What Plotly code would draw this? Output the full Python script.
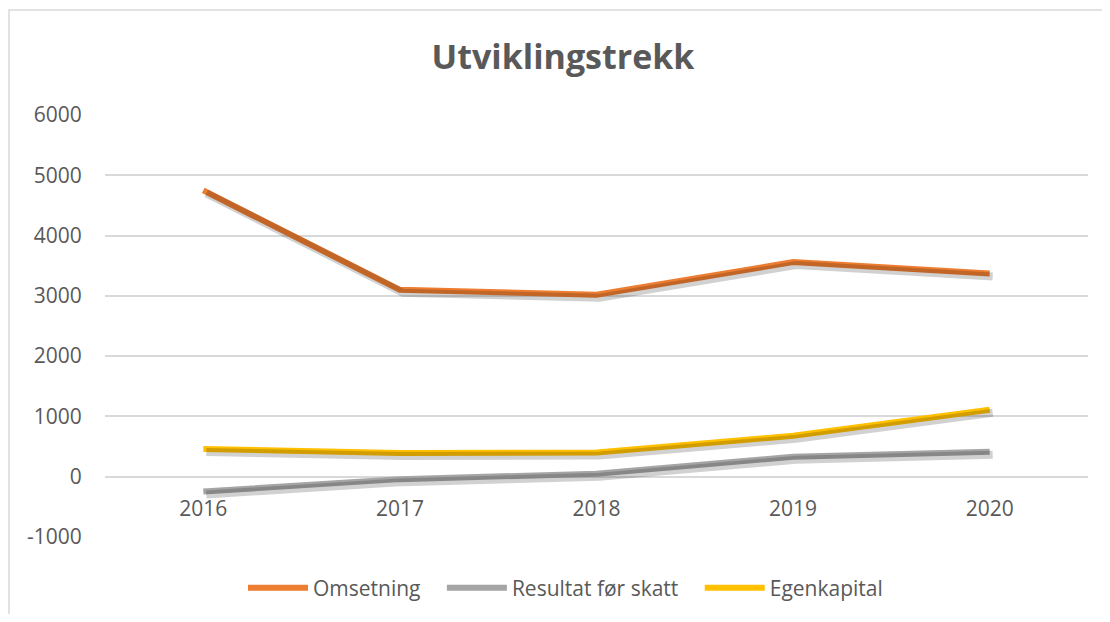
import plotly.graph_objects as go

years = ["2016", "2017", "2018", "2019", "2020"]
omsetning = [4750, 3100, 3020, 3560, 3370]
resultat = [-245, -40, 50, 330, 415]
egenkapital = [460, 395, 400, 680, 1110]
ytick_vals = [-1000, 0, 1000, 2000, 3000, 4000, 5000, 6000]
ytick_text = ["-1000", "0", "1000", "2000", "3000", "4000", "5000", "6000"]

series = [
    ("Omsetning", omsetning, "#ED7D31"),
    ("Resultat før skatt", resultat, "#A5A5A5"),
    ("Egenkapital", egenkapital, "#FFC000"),
]

FONT = "Open Sans"
TXT = "#595959"
FS = 21
OFF = 8  # page body margin
W, H = 1110 - 2 * OFF, 622 - 2 * OFF
ML, MT = 105 - OFF, 115 - OFF
MR = W - (1088 - OFF)
MB = H - (537 - OFF)
plot_w = W - ML - MR
plot_h = H - MT - MB
YR = [-1000, 6000]
XR = [-0.5, 4.5]

fig = go.Figure()

# shadows (same data, drawn on axes shifted by a few pixels)
dx = 3 * (XR[1] - XR[0]) / plot_w
dy = 3 * (YR[1] - YR[0]) / plot_h
for name, vals, col in series:
    fig.add_trace(go.Scatter(
        x=list(range(len(years))), y=vals, mode="lines",
        line=dict(color="rgba(0,0,0,0.18)", width=8),
        xaxis="x2", yaxis="y2", showlegend=False, hoverinfo="skip"))

pad = "\u00a0" * 3
for name, vals, col in series:
    fig.add_trace(go.Scatter(
        x=list(range(len(years))), y=vals, mode="lines", name=name + pad,
        line=dict(color=col, width=6)))

fig.update_layout(
    width=W, height=H,
    margin=dict(l=ML, r=MR, t=MT, b=MB, autoexpand=False),
    paper_bgcolor="white", plot_bgcolor="white",
    font=dict(family=FONT, color=TXT, size=FS),
    title=dict(text="<b>Utviklingstrekk</b>", x=(563 - OFF) / W, xanchor="center",
               y=1 - (57 - OFF) / H, yanchor="middle", xref="container", yref="container",
               font=dict(family=FONT, size=34, color=TXT)),
    xaxis=dict(range=XR, tickvals=list(range(len(years))), ticktext=years,
               showgrid=False, zeroline=False, showline=False,
               anchor="free", position=(0 - YR[0]) / (YR[1] - YR[0]),
               ticks="outside", ticklen=13, tickcolor="rgba(0,0,0,0)",
               tickfont=dict(size=FS, color=TXT, family=FONT)),
    yaxis=dict(range=YR, tickvals=ytick_vals, ticktext=ytick_text,
               showgrid=True, gridcolor="#D9D9D9",
               gridwidth=1.5, zeroline=False, showline=False,
               ticks="outside", ticklen=18, tickcolor="rgba(0,0,0,0)",
               tickfont=dict(size=FS, color=TXT, family=FONT)),
    xaxis2=dict(range=[XR[0] - dx, XR[1] - dx], overlaying="x", visible=False,
                anchor="y2"),
    yaxis2=dict(range=[YR[0] + dy, YR[1] + dy], overlaying="y", visible=False,
                anchor="x2"),
    legend=dict(orientation="h", xref="container", yref="container",
                x=(243 - OFF) / W, xanchor="left",
                y=1 - (588 - OFF) / H, yanchor="middle",
                font=dict(size=FS, color=TXT, family=FONT), itemwidth=60,
                traceorder="normal"),
    showlegend=True,
    shapes=[dict(type="rect", xref="paper", yref="paper",
                 x0=(9 - OFF - ML) / plot_w, x1=(W + 20 - ML) / plot_w,
                 y0=-(H + 20 - (H - MB)) / plot_h, y1=1 + (MT - (10 - OFF)) / plot_h,
                 line=dict(color="#D9D9D9", width=1.5), layer="below")],
)

fig.write_html("out.html")
